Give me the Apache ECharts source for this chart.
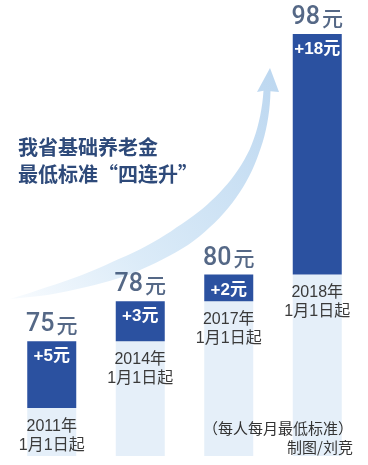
<!DOCTYPE html>
<html>
<head>
<meta charset="utf-8">
<script src="https://cdn.jsdelivr.net/npm/echarts@6/dist/echarts.min.js"></script>
<style>
html,body{margin:0;padding:0;background:#fff;}
#chart{width:368px;height:465px;}
</style>
</head>
<body>
<div id="chart"></div>
<script>
// ---- data ----
const categories = ['2011年\n1月1日起', '2014年\n1月1日起', '2017年\n1月1日起', '2018年\n1月1日起'];
const previousValues = [70, 75, 78, 80];
const increments = [5, 3, 2, 18];
const totals = [75, 78, 80, 98];
const titleLines = ['我省基础养老金', '最低标准“四连升”'];
const noteLines = ['（每人每月最低标准）', '制图/刘竞'];

// ---- decorative arrow shape ----
function arrowPoints() {
  const P0 = [10, 299], P1 = [175, 268], P2 = [262, 200], P3 = [267, 91];
  const widths = [[0, 0], [0.08, 8], [0.25, 18], [0.45, 21], [0.6, 17], [0.8, 10], [1, 7]];
  function w(t) {
    for (let i = 1; i < widths.length; i++) {
      if (t <= widths[i][0]) {
        const a = widths[i - 1], b = widths[i];
        return a[1] + (b[1] - a[1]) * (t - a[0]) / (b[0] - a[0]);
      }
    }
    return widths[widths.length - 1][1];
  }
  const left = [], right = [];
  for (let k = 0; k <= 50; k++) {
    const t = k / 50, u = 1 - t;
    const x = u*u*u*P0[0] + 3*u*u*t*P1[0] + 3*u*t*t*P2[0] + t*t*t*P3[0];
    const y = u*u*u*P0[1] + 3*u*u*t*P1[1] + 3*u*t*t*P2[1] + t*t*t*P3[1];
    const dx = 3*u*u*(P1[0]-P0[0]) + 6*u*t*(P2[0]-P1[0]) + 3*t*t*(P3[0]-P2[0]);
    const dy = 3*u*u*(P1[1]-P0[1]) + 6*u*t*(P2[1]-P1[1]) + 3*t*t*(P3[1]-P2[1]);
    const len = Math.sqrt(dx*dx + dy*dy) || 1;
    const nx = -dy / len, ny = dx / len;
    const hw = w(t) / 2;
    left.push([x - nx*hw, y - ny*hw]);
    right.push([x + nx*hw, y + ny*hw]);
  }
  const head = [[257, 92], [270, 68], [279, 92]];
  return left.concat(head, right.reverse());
}

const chart = echarts.init(document.getElementById('chart'), null, {renderer: 'canvas'});
const cjk = '"Noto Sans CJK SC", sans-serif';
const num = '"Liberation Sans", "Noto Sans CJK SC", sans-serif';
const numMed = 'Roboto, "Noto Sans CJK SC", sans-serif';

chart.setOption({
  backgroundColor: '#ffffff',
  animation: false,
  grid: {left: 7.5, right: 6.5, top: 7.4, bottom: 9},
  xAxis: {type: 'category', data: categories, show: false},
  yAxis: {type: 'value', min: 66.4, max: 100, show: false, splitLine: {show: false}},
  graphic: [
    {
      type: 'polygon', z: -10, silent: true,
      shape: {points: arrowPoints()},
      style: {
        fill: new echarts.graphic.LinearGradient(0, 1, 1, 0, [
          {offset: 0, color: 'rgba(214,232,248,0.15)'},
          {offset: 0.35, color: '#dbebf8'},
          {offset: 1, color: '#bcd7f0'}
        ])
      }
    },
    {
      type: 'text', left: 18, top: 134, z: 10,
      style: {
        text: titleLines.join('\n'), fill: '#2e4a7a',
        font: 'bold 20px ' + cjk, lineHeight: 27
      }
    },
    {
      type: 'text', x: 353, y: 428, z: 10,
      style: {
        text: noteLines[0], fill: '#333333', align: 'right', verticalAlign: 'middle',
        font: '15px ' + cjk
      }
    },
    {
      type: 'text', x: 353, y: 447, z: 10,
      style: {
        text: noteLines[1], fill: '#333333', align: 'right', verticalAlign: 'middle',
        font: '15px ' + cjk
      }
    }
  ],
  series: [
    {
      type: 'bar', stack: 'a', barWidth: 49,
      data: previousValues,
      itemStyle: {color: '#e5eff9'},
      label: {
        show: true, position: 'insideTop', distance: 9,
        formatter: '{b}', color: '#3a3a3a',
        fontFamily: num, fontSize: 16, lineHeight: 19
      }
    },
    {
      type: 'bar', stack: 'a', barWidth: 49,
      data: increments,
      itemStyle: {color: '#2b51a0'},
      label: {
        show: true, position: 'insideTop', distance: 7,
        formatter: '+{c}元', color: '#ffffff',
        fontFamily: num, fontSize: 17, fontWeight: 'bold'
      }
    },
    {
      type: 'scatter', data: totals, symbolSize: 1,
      itemStyle: {color: 'rgba(0,0,0,0)'},
      label: {
        show: true, position: 'top', distance: 3,
        formatter: function (p) { return '{n|' + p.value + '}{u|元}'; },
        rich: {
          n: {fontFamily: numMed, fontWeight: 500, fontSize: 25, color: '#2b4268', padding: [0, 2, 0, 0]},
          u: {fontFamily: cjk, fontWeight: 500, fontSize: 21, color: '#2b4268'}
        }
      }
    }
  ]
});
</script>
</body>
</html>
